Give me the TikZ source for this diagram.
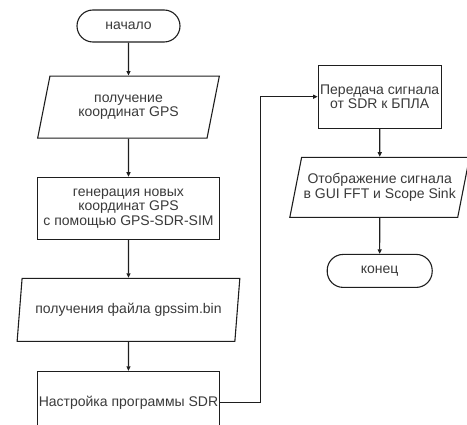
\documentclass[tikz,border=0pt]{standalone}
\usepackage{fontspec}
\setmainfont{Liberation Sans}
\usepackage{tikz}
\usetikzlibrary{arrows.meta,positioning,shapes.geometric}
\definecolor{ink}{HTML}{1E1E1E}
\definecolor{txt}{HTML}{3A3A3A}
\tikzset{
  base/.style={draw=ink,line width=1.1pt,align=center,inner sep=0.5pt,font=\fontsize{14}{14.5}\selectfont,text=txt,fill=white},
  termbox/.style={base,rectangle,rounded corners=16pt,minimum width=103pt,minimum height=32pt},
  procbox/.style={base,rectangle,minimum width=182pt,minimum height=62pt},
  iobox/.style={base,trapezium,trapezium left angle=73,trapezium right angle=107,trapezium stretches=true,minimum width=182pt,minimum height=62pt},
  arr/.style={-{Triangle[length=4.5pt,width=4pt]},line width=1.1pt,draw=ink}
}
\begin{document}
\begin{tikzpicture}[node distance=33pt]
\useasboundingbox (0,0) rectangle (467pt,-425pt);
\node[termbox] (start) at (128.5pt,-26pt) {начало};
\node[iobox,below=33pt of start] (coords) {получение\\координат GPS};
\node[procbox,below=38pt of coords] (gen) {генерация новых\\координат GPS\\с помощью GPS-SDR-SIM};
\node[iobox,minimum width=223pt,minimum height=63pt,below=38pt of gen] (file) {получения файла gpssim.bin};
\node[procbox,below=29pt of file] (prog) {Настройка программы SDR};
\node[procbox,minimum width=123pt,minimum height=63pt] (send) at (379.7pt,-96.7pt) {Передача сигнала\\от SDR к БПЛА};
\node[iobox,minimum width=180pt,minimum height=60pt,trapezium left angle=68,trapezium right angle=112,below=28pt of send] (show) {Отображение сигнала\\в GUI FFT и Scope Sink};
\node[termbox,minimum width=105pt,minimum height=33pt,below=36pt of show] (finish) {конец};
\foreach \a/\b in {start/coords,coords/gen,gen/file,file/prog,send/show,show/finish}\draw[arr] (\a)--(\b);
\draw[arr] (prog.east) -- ++(40pt,0) |- (send.west);
\end{tikzpicture}
\end{document}
